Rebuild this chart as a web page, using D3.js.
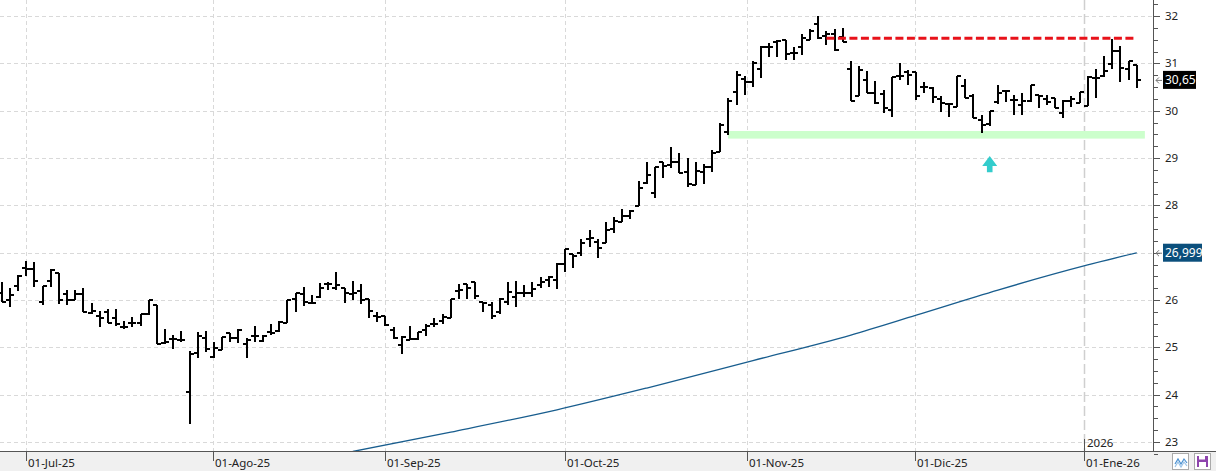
<html>
<head>
    <script src="https://d3js.org/d3.v7.min.js"></script>
    <style>
        body { margin: 0; background: #fff; }
        text { font-family: "Segoe UI", "Noto Sans", sans-serif; }
    </style>
</head>
<body>
    <svg id="chart"></svg>
    <script>
        var W = 1216, H = 471;
        var PlotRight = 1153, PlotBottom = 451;

        // daily OHLC, one entry per bar (26-Jun-25 .. 12-Jan-26)
        var opens = [26.14,26.00,26.30,26.67,26.66,25.96,26.40,26.56,26.12,25.99,
            26.12,25.72,25.66,25.75,25.63,25.44,25.52,25.52,25.70,25.89,
            25.10,25.17,25.15,24.05,24.87,25.19,24.79,24.94,25.30,25.19,
            25.06,25.25,25.13,25.33,25.35,25.51,26.02,26.12,25.94,26.07,
            26.33,26.25,26.25,26.12,26.19,26.02,25.67,25.66,25.37,25.05,
            25.15,25.17,25.37,25.49,25.56,25.63,26.19,26.33,26.39,25.96,
            25.90,25.75,25.95,26.07,26.14,26.14,26.32,26.42,26.42,26.77,
            26.97,26.99,27.29,27.22,27.20,27.49,27.64,27.77,27.99,28.48,
            28.27,28.92,28.85,28.91,28.71,28.42,28.71,28.82,29.12,29.54,
            30.39,30.66,30.61,30.89,31.35,31.46,31.49,31.21,31.35,31.49,
            31.83,31.58,31.61,31.55,30.89,30.30,30.65,30.38,30.35,30.01,
            30.74,30.82,30.82,30.49,30.47,30.25,30.14,30.08,30.52,30.31,
            29.80,29.71,30.19,30.42,30.22,30.12,30.20,30.33,30.24,30.27,
            29.96,30.20,30.16,30.10,30.68,30.74,30.99,31.26,30.87,30.96];
        var highs = [26.37,26.25,26.53,26.82,26.81,26.30,26.65,26.56,26.21,26.21,
            26.25,25.93,25.77,25.82,25.82,25.56,25.65,25.70,26.00,25.89,
            25.38,25.27,25.34,24.92,25.33,25.34,25.12,25.21,25.30,25.38,
            25.19,25.46,25.26,25.49,25.56,26.00,26.14,26.27,26.10,26.35,
            26.39,26.60,26.25,26.41,26.33,26.02,25.75,25.66,25.44,25.25,
            25.45,25.33,25.49,25.61,25.70,26.03,26.34,26.34,26.39,25.96,
            25.95,26.05,26.39,26.40,26.32,26.39,26.49,26.51,26.79,27.08,
            26.97,27.29,27.48,27.29,27.64,27.76,27.92,27.90,28.51,28.91,
            28.80,28.92,29.23,29.10,29.01,28.91,28.87,29.17,29.73,30.26,
            30.84,30.73,31.05,31.37,31.42,31.49,31.49,31.35,31.63,31.73,
            32.01,31.69,31.72,31.74,31.05,30.95,30.84,30.63,30.44,30.72,
            31.00,30.85,30.82,30.61,30.49,30.30,30.16,30.73,30.66,30.35,
            29.91,29.99,30.54,30.44,30.34,30.38,30.54,30.34,30.34,30.27,
            30.22,30.30,30.40,30.73,30.89,31.15,31.51,31.37,31.05,30.96];
        var lows = [25.95,25.86,26.20,26.51,26.28,25.89,26.28,25.91,25.89,25.99,
            25.75,25.70,25.42,25.52,25.46,25.38,25.42,25.46,25.68,25.06,
            25.08,24.96,25.12,23.39,24.77,24.91,24.77,24.94,25.11,25.10,
            24.78,25.11,25.12,25.26,25.33,25.51,25.75,25.88,25.93,26.05,
            26.21,26.22,25.93,26.01,25.91,25.61,25.54,25.45,25.18,24.85,
            25.15,25.15,25.25,25.44,25.49,25.63,26.03,26.03,26.03,25.75,
            25.60,25.70,25.90,25.85,26.06,26.06,26.25,26.27,26.23,26.60,
            26.68,26.92,27.11,26.88,27.20,27.42,27.64,27.71,27.99,28.46,
            28.15,28.57,28.78,28.68,28.39,28.42,28.46,28.71,29.12,29.49,
            30.12,30.33,30.51,30.70,31.14,31.14,31.08,31.06,31.18,31.49,
            31.51,31.39,31.27,31.46,30.20,30.30,30.38,30.15,29.96,29.87,
            30.65,30.54,30.23,30.37,30.17,29.98,29.87,30.08,30.27,29.85,
            29.52,29.68,30.14,30.19,29.91,29.91,30.19,30.06,30.12,30.06,
            29.85,30.08,30.16,30.10,30.27,30.72,30.89,30.60,30.65,30.47];
        var closes = [25.95,26.11,26.51,26.66,26.40,26.30,26.63,26.01,26.00,26.12,
            25.75,25.77,25.61,25.52,25.49,25.44,25.52,25.70,26.00,25.06,
            25.12,25.17,25.15,24.86,25.24,24.96,24.98,25.21,25.19,25.37,
            25.15,25.25,25.24,25.30,25.54,26.00,26.14,25.96,25.93,26.26,
            26.33,26.32,26.14,26.14,26.00,25.77,25.65,25.47,25.20,25.22,
            25.17,25.33,25.46,25.49,25.65,26.03,26.21,26.25,26.09,25.93,
            25.66,26.03,26.16,26.15,26.14,26.23,26.37,26.48,26.77,27.08,
            26.94,27.20,27.30,27.09,27.48,27.67,27.77,27.88,28.37,28.65,
            28.80,28.83,28.92,28.68,28.46,28.73,28.82,29.10,29.69,30.21,
            30.75,30.60,31.00,31.35,31.35,31.48,31.19,31.21,31.53,31.69,
            31.53,31.63,31.28,31.46,30.20,30.86,30.38,30.17,30.05,30.72,
            30.74,30.75,30.32,30.49,30.28,30.17,30.14,30.73,30.27,29.85,
            29.70,29.99,30.38,30.42,30.22,30.21,30.54,30.30,30.19,30.06,
            30.21,30.24,30.40,30.72,30.70,30.84,31.26,30.91,31.04,30.65];

        // long moving average, read at a few bars
        var maIdx = [43, 55, 68, 79, 92, 104, 112, 122, 133, 139];
        var maVal = [22.80, 23.21, 23.68, 24.14, 24.72, 25.26, 25.68, 26.21, 26.74, 26.999];

        var monthLabels = ["01-Jul-25", "01-Ago-25", "01-Sep-25", "01-Oct-25", "01-Nov-25", "01-Dic-25", "01-Ene-26"];
        var monthPos = [3.03, 25.9, 47.0, 69.0, 91.3, 111.9, 132.5];
        var yearLabel = "2026";

        var priceTicks = [23, 24, 25, 26, 27, 28, 29, 30, 31, 32];

        var resistance = { level: 31.53, from: 101, to: 138.8 };
        var support = { low: 29.41, high: 29.57, from: 88.95, to: 140 };
        var arrowMark = { at: 121, tip: 29.04, base: 28.70 };

        var svg = d3.select("#chart").attr("width", W).attr("height", H);

        var x = d3.scaleLinear().domain([0, opens.length - 1]).range([1.7, 1136.7]);
        var y = d3.scaleLinear().domain([23, 32]).range([442, 16]);

        svg.append("rect").attr("width", W).attr("height", H).attr("fill", "#fff");
        svg.append("rect").attr("x", 0).attr("y", PlotBottom + 1)
            .attr("width", W).attr("height", H - PlotBottom - 1).attr("fill", "#f0f0f0");

        svg.append("clipPath").attr("id", "plotclip")
            .append("rect").attr("x", 0).attr("y", 0).attr("width", PlotRight).attr("height", PlotBottom);

        var plot = svg.append("g").attr("clip-path", "url(#plotclip)");

        // grid
        plot.selectAll(".hgrid").data(priceTicks).enter()
            .append("line").attr("class", "hgrid")
            .attr("x1", 0).attr("x2", PlotRight)
            .attr("y1", function(d) { return Math.round(y(d)) + 0.5; })
            .attr("y2", function(d) { return Math.round(y(d)) + 0.5; })
            .attr("stroke", "#d9d9d9").attr("stroke-dasharray", "4,3");

        plot.selectAll(".vgrid").data(monthPos).enter()
            .append("line").attr("class", "vgrid")
            .attr("x1", function(d) { return Math.round(x(d)) + 0.5; })
            .attr("x2", function(d) { return Math.round(x(d)) + 0.5; })
            .attr("y1", 0).attr("y2", PlotBottom)
            .attr("stroke", function(d, i) { return i == monthPos.length - 1 ? "#cfcfcf" : "#d9d9d9"; })
            .attr("stroke-width", function(d, i) { return i == monthPos.length - 1 ? 1.5 : 1; })
            .attr("stroke-dasharray", function(d, i) { return i == monthPos.length - 1 ? "10,4" : "4,3"; });

        // support band
        plot.append("rect")
            .attr("x", x(support.from)).attr("width", x(support.to) - x(support.from))
            .attr("y", y(support.high)).attr("height", y(support.low) - y(support.high))
            .attr("fill", "#ccffcc");

        // moving average
        var maLine = d3.line()
            .x(function(d) { return x(d[0]); })
            .y(function(d) { return y(d[1]); })
            .curve(d3.curveMonotoneX);
        plot.append("path")
            .datum(d3.zip(maIdx, maVal))
            .attr("d", maLine)
            .attr("fill", "none").attr("stroke", "#185d8e").attr("stroke-width", 1.3);

        // OHLC bars
        plot.selectAll(".bar").data(opens).enter()
            .append("path").attr("class", "bar")
            .attr("d", function(d, i) {
                var cx = Math.round(x(i));
                var o = Math.round(y(opens[i])), c = Math.round(y(closes[i]));
                return "M" + cx + "," + Math.round(y(highs[i])) + "V" + Math.round(y(lows[i])) +
                    "M" + (cx - 4) + "," + o + "H" + cx +
                    "M" + cx + "," + c + "H" + (cx + 4);
            })
            .attr("fill", "none").attr("stroke", "#000").attr("stroke-width", 2)
            .attr("shape-rendering", "crispEdges");

        // resistance line
        plot.append("line")
            .attr("x1", x(resistance.from)).attr("x2", x(resistance.to))
            .attr("y1", y(resistance.level)).attr("y2", y(resistance.level))
            .attr("stroke", "#e8121a").attr("stroke-width", 3).attr("stroke-dasharray", "8,3.5");

        // arrow
        var ax = x(arrowMark.at), at = y(arrowMark.tip), ab = y(arrowMark.base);
        var ah = at + (ab - at) * 0.62;
        plot.append("path")
            .attr("d", "M" + ax + "," + at + "L" + (ax + 7.5) + "," + ah + "H" + (ax + 2.8) +
                "V" + ab + "H" + (ax - 2.8) + "V" + ah + "H" + (ax - 7.5) + "Z")
            .attr("fill", "#33cccc");

        // axes lines
        svg.append("line").attr("x1", 0).attr("x2", W)
            .attr("y1", PlotBottom + 0.5).attr("y2", PlotBottom + 0.5).attr("stroke", "#555");
        svg.append("line").attr("x1", PlotRight + 0.5).attr("x2", PlotRight + 0.5)
            .attr("y1", 0).attr("y2", PlotBottom).attr("stroke", "#555");

        // last value tags
        var fmt = function(v, n) { return v.toFixed(n).replace(".", ","); };
        var tags = [
            { v: closes[closes.length - 1], txt: fmt(closes[closes.length - 1], 2), fill: "#000", w: 33 },
            { v: maVal[maVal.length - 1], txt: fmt(maVal[maVal.length - 1], 3), fill: "#0b4f7c", w: 39 }
        ];

        // right axis
        var minor = d3.range(22.75, 32.5, 0.25);
        svg.selectAll(".ytick").data(minor).enter()
            .append("line").attr("class", "ytick")
            .attr("x1", PlotRight + 1)
            .attr("x2", function(d) { return PlotRight + (d % 1 == 0 ? 7 : 5); })
            .attr("y1", function(d) { return Math.round(y(d)) + 0.5; })
            .attr("y2", function(d) { return Math.round(y(d)) + 0.5; })
            .attr("stroke", "#555");

        // labels hidden behind a tag are not drawn
        var visibleTicks = priceTicks.filter(function(d) {
            return tags.every(function(t) { return Math.abs(y(d) - y(t.v)) > 12; });
        });
        svg.selectAll(".ylab").data(visibleTicks).enter()
            .append("text").attr("class", "ylab")
            .attr("x", 1165).attr("y", function(d) { return y(d) + 4; })
            .attr("font-size", "11.5px").attr("fill", "#222")
            .text(function(d) { return d; });

        tags.forEach(function(t) {
            var ty = y(t.v);
            svg.append("path")
                .attr("d", "M1162," + (ty + 0.5) + "H1156M1159," + (ty - 2.5) + "L1156," + (ty + 0.5) + "L1159," + (ty + 3.5))
                .attr("fill", "none").attr("stroke", "#777");
            svg.append("rect").attr("x", 1163).attr("y", ty - 9)
                .attr("width", t.w).attr("height", 18).attr("fill", t.fill);
            svg.append("text").attr("x", 1165).attr("y", ty + 4.5)
                .attr("font-size", "12px").attr("fill", "#fff").text(t.txt);
        });

        // bottom axis
        var bx = svg.append("g");
        bx.selectAll(".xtick").data(monthPos).enter()
            .append("line").attr("class", "xtick")
            .attr("x1", function(d) { return Math.round(x(d)) + 0.5; })
            .attr("x2", function(d) { return Math.round(x(d)) + 0.5; })
            .attr("y1", PlotBottom).attr("y2", PlotBottom + 10)
            .attr("stroke", "#555");
        bx.selectAll(".xlab").data(monthLabels).enter()
            .append("text").attr("class", "xlab")
            .attr("x", function(d, i) { return Math.round(x(monthPos[i])) + 2; })
            .attr("y", 467)
            .attr("font-size", "11.5px").attr("fill", "#222")
            .text(function(d) { return d; });

        var yx = Math.round(x(monthPos[monthPos.length - 1])) + 0.5;
        svg.append("line").attr("x1", yx).attr("x2", yx)
            .attr("y1", 439).attr("y2", PlotBottom).attr("stroke", "#555");
        svg.append("text").attr("x", yx + 2.5).attr("y", 446.5)
            .attr("font-size", "11.5px").attr("fill", "#222").text(yearLabel);

        // small buttons bottom right
        svg.append("rect").attr("x", 1172.5).attr("y", 453.5).attr("width", 16).attr("height", 16)
            .attr("fill", "#fff").attr("stroke", "#aaa");
        svg.append("path").attr("d", "M1175,464L1178,459L1181,464L1184,459L1187,463")
            .attr("fill", "none").attr("stroke", "#4a90d0").attr("stroke-width", 1.2);
        svg.append("path").attr("d", "M1175,467L1178,462L1181,467L1184,462L1187,466")
            .attr("fill", "none").attr("stroke", "#9cc4e8").attr("stroke-width", 1.2);
        svg.append("rect").attr("x", 1194.5).attr("y", 453.5).attr("width", 16).attr("height", 16)
            .attr("fill", "#fff").attr("stroke", "#aaa");
        svg.append("rect").attr("x", 1197).attr("y", 456).attr("width", 11).attr("height", 11)
            .attr("fill", "#8e44ad");
        svg.append("rect").attr("x", 1199).attr("y", 456).attr("width", 6).attr("height", 3.5)
            .attr("fill", "#fff");
        svg.append("rect").attr("x", 1199).attr("y", 462).attr("width", 7).attr("height", 5)
            .attr("fill", "#fff");
    </script>
</body>
</html>
